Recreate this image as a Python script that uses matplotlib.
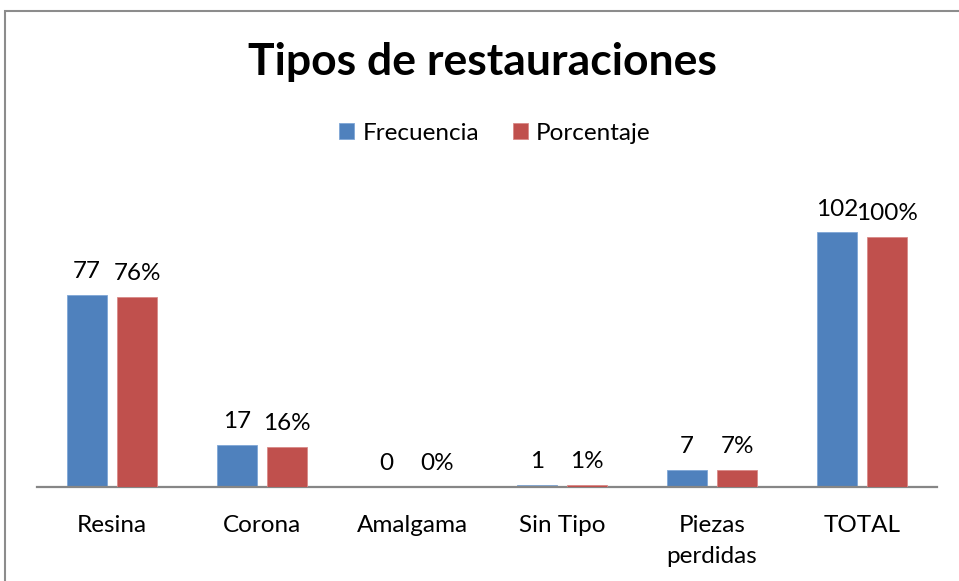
import matplotlib.pyplot as plt
import numpy as np
from matplotlib.patches import Rectangle

plt.rcParams['font.family'] = ['Lato', 'DejaVu Sans']

categorias = ["Resina", "Corona", "Amalgama", "Sin Tipo", "Piezas\nperdidas", "TOTAL"]
frecuencia = [77, 17, 0, 1, 7, 102]
porcentaje = [76, 16, 0, 1, 7, 100]

azul = "#4F81BD"
rojo = "#C0504D"

fig = plt.figure(figsize=(9.59, 5.81), dpi=100)
ax = fig.add_axes([37 / 959, 94 / 581, 900 / 959, 300 / 581])
ax2 = ax.twinx()

x = np.arange(len(categorias))
ancho = 0.267
off = 0.168

b1 = ax.bar(x - off, frecuencia, ancho, color=azul, edgecolor="#7FA6D6", linewidth=0.6, label="Frecuencia")
b2 = ax2.bar(x + off, porcentaje, ancho, color=rojo, edgecolor="#D98A88", linewidth=0.6, label="Porcentaje")

ax.set_ylim(0, 120)
ax2.set_ylim(0, 120)
ax.set_xlim(-0.5, len(categorias) - 0.5)

for a in (ax, ax2):
    for s in ("top", "left", "right"):
        a.spines[s].set_visible(False)
    a.set_yticks([])
ax2.spines["bottom"].set_visible(False)
ax.spines["bottom"].set_color("#868686")
ax.spines["bottom"].set_linewidth(1.6)

ax.set_xticks(x)
ax.set_xticklabels(categorias, fontsize=17.5, linespacing=1.6)
ax.tick_params(axis="x", length=0, pad=20)

for xi, v in zip(x, frecuencia):
    ax.annotate(str(v), (xi - off, v), xytext=(0, 9), textcoords="offset points",
                ha="center", va="bottom", fontsize=17.5)
for xi, v in zip(x, porcentaje):
    ax2.annotate(f"{v}%", (xi + off, v), xytext=(0, 9), textcoords="offset points",
                 ha="center", va="bottom", fontsize=17.5)

fig.text(482 / 959, 1 - 62 / 581, "Tipos de restauraciones", ha="center", va="center",
         fontsize=32, fontweight="bold")

fig.legend(handles=[b1, b2], loc="center", bbox_to_anchor=(495 / 959, 1 - 133 / 581),
           ncol=2, frameon=False, fontsize=17.5, handlelength=0.6, handleheight=0.6,
           handletextpad=0.35, columnspacing=1.4)

fig.patches.append(Rectangle((5 / 959, -0.1), 1.2, 1 - 11 / 581 + 0.1, transform=fig.transFigure,
                             fill=False, edgecolor="#8C8C8C", linewidth=1.5))

fig.savefig("out.png", dpi=100)
